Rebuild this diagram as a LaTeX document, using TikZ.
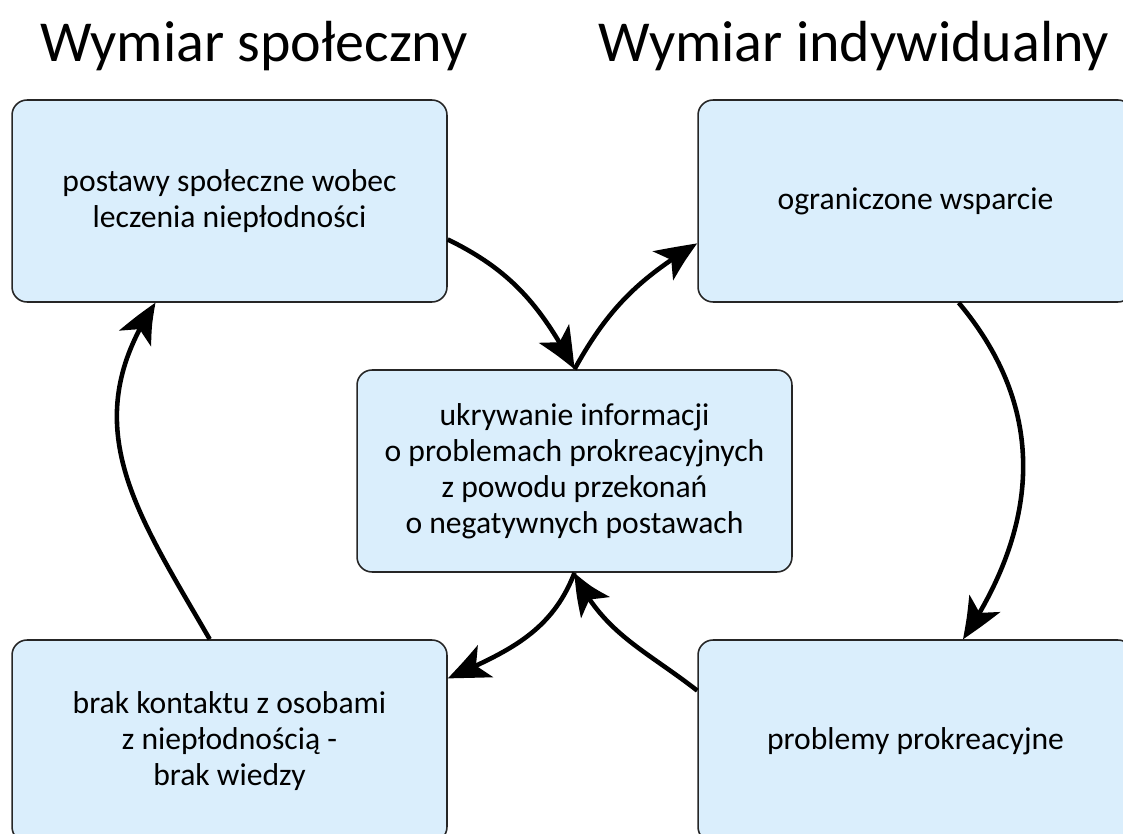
\documentclass[tikz,border=0pt]{standalone}
\usepackage{fontspec}
\setmainfont{Carlito}
\usetikzlibrary{arrows.meta,bending,shapes}
\definecolor{boxblue}{RGB}{218,238,252}
\tikzstyle{box}=[draw=black!85,fill=boxblue,line width=0.9pt,rounded corners=0.3cm,minimum width=8.7cm,minimum height=4.04cm,align=center,font=\fontsize{18}{20.5}\selectfont]
\tikzstyle{title}=[anchor=base,font=\fontsize{33}{38}\selectfont]
\tikzstyle{link}=[draw,line width=2.6pt,-{Stealth[length=0.85cm,width=0.7cm,inset=0.22cm,bend]}]

\begin{document}
\begin{tikzpicture}[x=0.02cm,y=0.02cm]
    % the page, boxes on the right and bottom run off it
    \clip (0,0) rectangle (1123,-834);
    % headings
    \node[title] (social) at (254,-62) {Wymiar społeczny};
    \node[title] (individual) at (854,-62) {Wymiar indywidualny};
    % the boxes
    \foreach \pos/\name/\txt in {{(229.5,-201)/attitudes/{postawy społeczne wobec\\leczenia niepłodności}},
        {(574.5,-471)/hiding/{ukrywanie informacji\\o problemach prokreacyjnych\\z powodu przekonań\\o negatywnych postawach}},
        {(229.5,-741)/contact/{brak kontaktu z osobami\\z niepłodnością -\\brak wiedzy}},
        {(915.5,-201)/support/{ograniczone wsparcie}},
        {(915.5,-741)/problems/{problemy prokreacyjne}}}
        \node[box] (\name) at \pos {\txt};
    % the cycle
    \foreach \source/\dest/\o/\i/\l in {attitudes.-10/hiding.north/-26/118/1, hiding.north/support.191/61/211/1,
        support.-67/problems.65/-50/56/1.05, problems.167/hiding.south/142/-65/1,
        hiding.south/contact.16/-111/24/1, contact.101/attitudes.234/120/-124/1.1}
        \path[link] (\source) to[out=\o,in=\i,looseness=\l] (\dest);
\end{tikzpicture}
\end{document}
